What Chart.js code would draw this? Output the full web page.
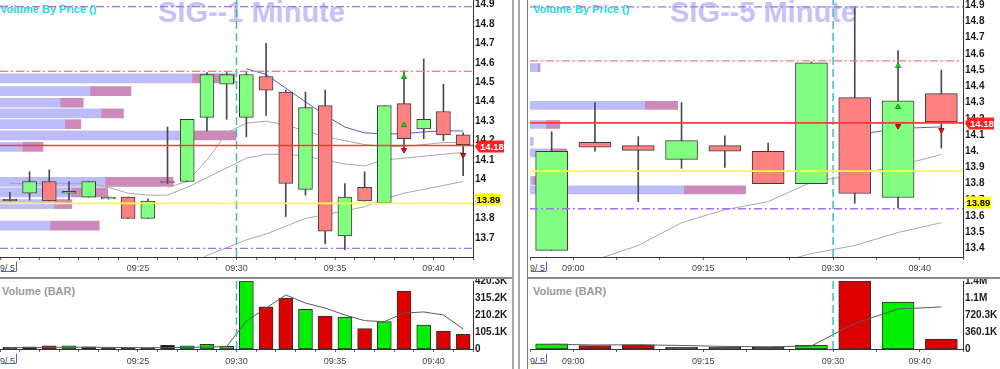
<!DOCTYPE html>
<html>
<head>
<meta charset="utf-8">
<script src="https://cdn.jsdelivr.net/npm/chart.js@4.4.1/dist/chart.umd.min.js"></script>
<style>
  html, body { margin: 0; padding: 0; background: #fff; }
  body { position: relative; width: 1000px; height: 369px; overflow: hidden; font-family: "Liberation Sans", Arial, sans-serif; }
  canvas, .txt, .rule { position: absolute; }
  .txt { white-space: nowrap; line-height: 1; }
  .title { font-size: 29px; font-weight: bold; color: #c3c3f9; }
  .vbp { font-size: 11px; font-weight: bold; color: #22dbe6; }
  .vol { font-size: 11px; font-weight: bold; color: #9a9a9a; }
</style>
</head>
<body>
<!-- textos de fondo (el canvas va encima) -->
<div class="txt title" style="left:158px; top:-2px">SIG--1 Minute</div>
<div class="txt title" style="left:670px; top:-2px">SIG--5 Minute</div>
<div class="txt vbp" style="left:0; top:4px">Volume By Price ()</div>
<div class="txt vbp" style="left:533px; top:4px">Volume By Price ()</div>
<div class="txt vol" style="left:2px; top:286px">Volume (BAR)</div>
<div class="txt vol" style="left:533px; top:286px">Volume (BAR)</div>

<!-- separadores -->
<div class="rule" style="left:0; top:277px; width:512px; height:2px; background:#8a8a8a"></div>
<div class="rule" style="left:528px; top:277px; width:472px; height:2px; background:#8a8a8a"></div>
<div class="rule" style="left:512px; top:0; width:2px; height:369px; background:#a8a8a8"></div>
<div class="rule" style="left:518px; top:0; width:2px; height:369px; background:#a8a8a8"></div>
<div class="rule" style="left:527px; top:0; width:1px; height:369px; background:#777"></div>

<canvas id="lp" width="512" height="276" style="left:0; top:0"></canvas>
<canvas id="lv" width="512" height="90" style="left:0; top:279px"></canvas>
<canvas id="rp" width="473" height="276" style="left:527px; top:0"></canvas>
<canvas id="rv" width="473" height="90" style="left:527px; top:279px"></canvas>

<script>
// ---------- 1 minuto ----------
const leftTimes = ['09:18','09:19','09:20','09:21','09:22','09:23','09:24','09:25','09:26','09:27','09:28','09:29',
                   '09:30','09:31','09:32','09:33','09:34','09:35','09:36','09:37','09:38','09:39','09:40','09:41'];
const leftOpen  = [13.90,13.93,13.99,13.93,13.91,13.90,13.91,13.80,13.99,13.99,14.32,14.49,14.32,14.53,14.45,13.95,14.38,13.71,13.96,13.88,14.39,14.26,14.35,14.23];
const leftHigh  = [13.935,14.04,14.05,13.99,13.99,13.91,13.91,13.90,14.27,14.31,14.55,14.55,14.55,14.70,14.46,14.45,14.46,13.98,14.04,14.38,14.56,14.62,14.49,14.24];
const leftLow   = [13.89,13.895,13.89,13.895,13.91,13.90,13.80,13.80,13.98,13.99,14.25,14.31,14.22,14.33,13.81,13.92,13.67,13.64,13.89,13.88,14.15,14.21,14.20,14.02];
const leftClose = [13.89,13.99,13.89,13.94,13.99,13.91,13.80,13.89,13.985,14.31,14.54,14.54,14.54,14.46,13.98,14.37,13.735,13.91,13.89,14.38,14.21,14.31,14.23,14.18];
const leftMaUpper = [null,null,null,null,null,null,null,null,13.96,13.99,14.10,14.24,14.29,14.30,14.28,14.25,14.22,14.20,14.18,14.17,14.17,14.18,14.19,14.19];
const leftMaMid   = [13.98,13.98,13.98,13.98,13.98,13.96,13.93,13.92,13.92,13.96,14.01,14.06,14.11,14.13,14.13,14.12,14.10,14.08,14.07,14.10,14.11,14.12,14.13,14.14];
const leftMaLow   = [null,null,null,null,null,null,null,null,null,13.55,13.61,13.65,13.69,13.72,13.76,13.80,13.82,13.84,13.86,13.90,13.93,13.95,13.97,13.99];
const leftVwap    = [null,null,null,null,null,null,null,null,null,null,null,null,14.57,14.54,14.47,14.40,14.33,14.27,14.24,14.235,14.235,14.245,14.25,14.25];
const leftVolume  = [10,14,20,20,14,8,4,4,23,20,29,16,420.3,261,313,245,204,198,126,169,358,148,111,91];
const leftVolSide = ['flat','flat','down','up','flat','flat','flat','flat','flat','up','up','up','up','down','down','up','down','up','down','up','down','up','down','down'];
const leftVolAvg  = [8,9,10,11,11,10,9,8,9,10,12,15,173,253,334,284,253,210,175,169,222,229,210,124];
// volumen por precio (K)
const leftVbpPrice = [14.52,14.455,14.395,14.34,14.285,14.227,14.168,13.988,13.934,13.874,13.763];
const leftVbpBuy   = [406,190,127,214,137,408,47,222,150,114,106];
const leftVbpSell  = [91,87,49,47,34,91,44,144,78,38,104];
const leftUpAt = [20,20],   leftUpPrice = [14.527,14.28];
const leftDownAt = [20,23], leftDownPrice = [14.152,14.126];
const leftPriceTicks = [14.9,14.8,14.7,14.6,14.5,14.4,14.3,14.2,14.1,14.0,13.9,13.8,13.7];
const leftPriceLabels = ['14.9','14.8','14.7','14.6','14.5','14.4','14.3','14.2','14.1','14','13.9','13.8','13.7'];
const leftVolTicks = [0,105.1,210.2,315.2,420.3];
const leftVolLabels = ['0','105.1K','210.2K','315.2K','420.3K'];
const leftAxisTimes = ['09:25','09:30','09:35','09:40'];

// ---------- 5 minutos ----------
const rightTimes = ['08:55','09:00','09:05','09:10','09:15','09:20','09:25','09:30','09:35','09:40'];
const rightOpen  = [13.39,14.055,14.035,13.95,14.035,14.00,13.80,14.33,13.715,14.355];
const rightHigh  = [14.12,14.30,14.09,14.30,14.095,14.05,14.55,14.89,14.62,14.50];
const rightLow   = [13.39,14.00,13.69,13.895,13.90,13.80,13.80,13.68,13.65,14.02];
const rightClose = [14.00,14.025,14.005,14.065,14.00,13.80,14.545,13.74,14.31,14.18];
const rightMaMid = [null,13.33,13.42,13.56,13.64,13.69,13.81,13.855,13.91,13.98];
const rightMaLow = [null,null,null,null,null,13.30,13.37,13.42,13.50,13.56];
const rightVwap  = [null,null,null,null,null,null,null,14.10,14.14,14.15];
const rightVolume  = [109,72,87,37,37,45,80,1440.6,993,211];
const rightVolSide = ['up','down','down','flat','flat','flat','up','down','up','down'];
const rightVolAvg  = [100,85,90,75,55,45,65,543,847,891];
const rightVbpPrice = [14.515,14.282,14.165,14.06,13.99,13.82,13.762];
const rightVbpBuy   = [18,265,37,7,48,5,355];
const rightVbpSell  = [5,76,32,0,37,9,143];
const rightUpAt = [8,8],   rightUpPrice = [14.525,14.272];
const rightDownAt = [8,9], rightDownPrice = [14.155,14.13];
const rightPriceTicks = [14.9,14.8,14.7,14.6,14.5,14.4,14.3,14.2,14.1,14.0,13.9,13.8,13.7,13.6,13.5,13.4];
const rightPriceLabels = ['14.9','14.8','14.7','14.6','14.5','14.4','14.3','14.2','14.1','14.','13.9','13.8','13.7','13.6','13.5','13.4'];
const rightVolTicks = [0,360.1,720.3,1080.4,1440.6];
const rightVolLabels = ['0','360.1K','720.3K','1.1M','1.4M'];
const rightAxisTimes = ['09:00','09:15','09:30','09:40'];

// niveles comunes (máximo, resistencia, último, pivote, mínimo)
const levelValues = [14.889,14.556,14.175,13.878,13.646];
const levelKinds  = ['hi','res','last','pivot','lo'];

const FONT = '"Liberation Sans", Arial, sans-serif';
const COL = {
  up: '#80ff80', down: '#ff8080', edge: '#3c3c3c', wick: '#4a4a4a',
  buy: '#bcbcfb', sell: '#cc8abb', ma: '#a8a8a8', vwap: '#5a5ad8', vma: '#5a5a5a',
  session: '#3cbcbc'
};
const VOLCOL = { up: '#00f000', down: '#dd0000', flat: '#111111' };
const LEVEL_STYLE = {
  hi:    { color: '#a070f0', dash: [8,3,2,3], width: 1.3 },
  res:   { color: '#ff7878', dash: [8,3,2,3], width: 1.3 },
  last:  { color: '#ff3a3a', dash: [], width: 1.7 },
  pivot: { color: '#ffff40', dash: [], width: 1.7 },
  lo:    { color: '#a070f0', dash: [8,3,2,3], width: 1.3 }
};

Chart.defaults.font.family = FONT;
Chart.defaults.animation = false;

// etiquetas de precio a la derecha (último y pivote)
const tagPlugin = {
  id: 'priceTags',
  afterDraw(chart, args, opts) {
    const { ctx, chartArea, scales } = chart;
    (opts.items || []).forEach(t => {
      const y = Math.round(scales.y.getPixelForValue(t.value)) + 0.5;
      const x = chartArea.right + 2;
      const w = 25, h = 12;
      ctx.save();
      ctx.fillStyle = t.bg;
      ctx.beginPath();
      if (t.arrow) {
        ctx.moveTo(x, y);
        ctx.lineTo(x + 4, y - h / 2);
        ctx.lineTo(x + 4 + w, y - h / 2);
        ctx.lineTo(x + 4 + w, y + h / 2);
        ctx.lineTo(x + 4, y + h / 2);
        ctx.closePath();
      } else {
        ctx.rect(x + 1, y - h / 2, w, h);
      }
      ctx.fill();
      ctx.fillStyle = t.fg;
      ctx.font = 'bold 9.5px ' + FONT;
      ctx.textBaseline = 'middle';
      ctx.fillText(t.text, x + (t.arrow ? 5 : 1.5), y + 0.5);
      ctx.restore();
    });
  }
};

// subrayado azul bajo la fecha del eje de tiempo
const dateMarkPlugin = {
  id: 'dateMark',
  afterDraw(chart) {
    const { ctx, chartArea, scales } = chart;
    const x0 = scales.x.getPixelForValue(0);
    const y = chartArea.bottom + 14.5;
    ctx.save();
    ctx.strokeStyle = '#4466ee';
    ctx.lineWidth = 1;
    ctx.beginPath();
    ctx.moveTo(x0 + 1, y);
    ctx.lineTo(x0 + 16, y);
    ctx.moveTo(x0 + 16.5, y);
    ctx.lineTo(x0 + 16.5, y - 10);
    ctx.stroke();
    ctx.restore();
  }
};

function timeAxis(times, shown, xAxisH, pad) {
  const n = times.length;
  return {
    type: 'linear', min: 0, max: n, offset: false,
    afterBuildTicks: s => { s.ticks = Array.from({ length: n + 1 }, (_, i) => ({ value: i })); },
    afterFit: s => { s.height = xAxisH; s.paddingLeft = 0; s.paddingRight = 0; },
    ticks: {
      autoSkip: false, maxRotation: 0, minRotation: 0, align: 'inner', padding: pad,
      color: '#444', font: { size: 9 },
      callback: v => v === 0 ? '9/ 5' : (shown.includes(times[v]) ? times[v] : '')
    },
    grid: { display: true, drawOnChartArea: false, drawTicks: true, tickLength: 3, color: '#666', offset: false },
    border: { display: true, color: '#333' }
  };
}

function valueAxis(min, max, ticks, labels, axisW) {
  return {
    type: 'linear', position: 'right', min, max, offset: false, grace: 0,
    afterBuildTicks: s => { s.ticks = ticks.map(v => ({ value: v })); },
    afterFit: s => { s.width = axisW; s.paddingTop = 0; s.paddingBottom = 0; },
    ticks: { autoSkip: false, padding: 2, color: '#1a1a1a', font: { size: 10, weight: 'bold' },
             callback: (v, i) => labels[i] },
    grid: { display: false, drawTicks: false, offset: false },
    border: { display: true, color: '#333' }
  };
}

function priceChart(id, d) {
  const n = d.times.length;
  const mid = i => i + 0.5;
  const series = vals => vals.map((v, i) => ({ x: mid(i), y: v }));
  const datasets = [
    { type: 'bar', indexAxis: 'y', xAxisID: 'xv', yAxisID: 'y', order: 6, grouped: false,
      data: d.vbpPrice.map((p, i) => ({ y: p, x: [0, d.vbpBuy[i]] })),
      backgroundColor: COL.buy, borderWidth: 0, barThickness: d.vbpThick },
    { type: 'bar', indexAxis: 'y', xAxisID: 'xv', yAxisID: 'y', order: 6, grouped: false,
      data: d.vbpPrice.map((p, i) => ({ y: p, x: [d.vbpBuy[i], d.vbpBuy[i] + d.vbpSell[i]] })),
      backgroundColor: COL.sell, borderWidth: 0, barThickness: d.vbpThick },
    ...d.mas.map(m => ({ type: 'line', xAxisID: 'x', data: series(m.values), borderColor: m.color,
      borderWidth: 1, pointRadius: 0, order: 5 })),
    { type: 'bar', xAxisID: 'x', data: d.low.map((l, i) => ({ x: mid(i), y: [l, d.high[i]] })),
      backgroundColor: COL.wick, barThickness: 1, grouped: false, order: 4 },
    { type: 'bar', xAxisID: 'x', data: d.open.map((o, i) => ({ x: mid(i), y: [o, d.close[i]] })),
      backgroundColor: d.open.map((o, i) => d.close[i] >= o ? COL.up : COL.down),
      borderColor: COL.edge, borderWidth: 1, borderSkipped: false, barThickness: d.bodyW, grouped: false, order: 3 },
    ...levelValues.map((v, i) => {
      const st = LEVEL_STYLE[levelKinds[i]];
      return { type: 'line', xAxisID: 'x', data: [{ x: 0, y: v }, { x: n, y: v }], borderColor: st.color,
        backgroundColor: st.color, borderDash: st.dash, borderWidth: st.width, pointRadius: 0, order: 2 };
    }),
    { type: 'line', xAxisID: 'x', data: [{ x: d.sessionIdx, y: d.yMin }, { x: d.sessionIdx, y: d.yMax }],
      borderColor: COL.session, borderDash: [8, 4], borderWidth: 1.5, pointRadius: 0, order: 2 },
    { type: 'line', xAxisID: 'x', showLine: false, data: d.upAt.map((t, i) => ({ x: mid(t), y: d.upPrice[i] })),
      pointStyle: 'triangle', pointRadius: 3, pointBackgroundColor: '#22dd22', pointBorderColor: '#119911', pointBorderWidth: 1, order: 0 },
    { type: 'line', xAxisID: 'x', showLine: false, data: d.downAt.map((t, i) => ({ x: mid(t), y: d.downPrice[i] })),
      pointStyle: 'triangle', pointRotation: 180, pointRadius: 3, pointBackgroundColor: '#ee1111', pointBorderColor: '#aa0000', pointBorderWidth: 1, order: 0 }
  ];
  return new Chart(document.getElementById(id), {
    type: 'bar',
    data: { datasets },
    plugins: [tagPlugin, dateMarkPlugin],
    options: {
      responsive: false, devicePixelRatio: 1, events: [],
      layout: { padding: { left: d.padLeft, top: 0, right: 0, bottom: 0 }, autoPadding: false },
      plugins: { legend: { display: false }, tooltip: { enabled: false }, priceTags: { items: d.tags } },
      scales: {
        x: timeAxis(d.times, d.shownTimes, 19, 3),
        y: valueAxis(d.yMin, d.yMax, d.yTicks, d.yLabels, d.axisW),
        xv: { type: 'linear', display: false, min: 0, max: 1000, offset: false, grace: 0 }
      }
    }
  });
}

function volumeChart(id, d) {
  const mid = i => i + 0.5;
  const volMax = d.ticks[d.ticks.length - 1];
  return new Chart(document.getElementById(id), {
    type: 'bar',
    data: {
      datasets: [
        { type: 'line', data: d.avg.map((v, i) => ({ x: mid(i), y: v })), borderColor: COL.vma,
          borderWidth: 1, pointRadius: 0, order: 1 },
        { type: 'line', data: [{ x: d.sessionIdx, y: 0 }, { x: d.sessionIdx, y: volMax }], borderColor: COL.session,
          borderDash: [8, 4], borderWidth: 1.5, pointRadius: 0, order: 0 },
        { type: 'bar', data: d.volume.map((v, i) => ({ x: mid(i), y: v })),
          backgroundColor: d.side.map(s => VOLCOL[s]), borderColor: '#303030', borderWidth: 1,
          borderSkipped: false, barThickness: d.bodyW, grouped: false, order: 2 }
      ]
    },
    plugins: [dateMarkPlugin],
    options: {
      responsive: false, devicePixelRatio: 1, events: [],
      layout: { padding: { left: d.padLeft, top: 2, right: 0, bottom: 0 }, autoPadding: false },
      plugins: { legend: { display: false }, tooltip: { enabled: false } },
      scales: {
        x: timeAxis(d.times, d.shownTimes, 20, 4),
        y: valueAxis(0, volMax, d.ticks, d.labels, d.axisW)
      }
    }
  });
}

priceChart('lp', {
  times: leftTimes, open: leftOpen, high: leftHigh, low: leftLow, close: leftClose,
  mas: [{ values: leftMaUpper, color: COL.ma }, { values: leftMaMid, color: COL.ma },
        { values: leftMaLow, color: COL.ma }, { values: leftVwap, color: COL.vwap }],
  vbpPrice: leftVbpPrice, vbpBuy: leftVbpBuy, vbpSell: leftVbpSell, vbpThick: 9,
  upAt: leftUpAt, upPrice: leftUpPrice, downAt: leftDownAt, downPrice: leftDownPrice,
  yMin: 13.602, yMax: 14.923, yTicks: leftPriceTicks, yLabels: leftPriceLabels,
  shownTimes: leftAxisTimes, sessionIdx: leftTimes.indexOf('09:30'),
  bodyW: 14, padLeft: 0, axisW: 39,
  tags: [{ value: 14.175, text: '14.18', bg: '#ff2222', fg: '#fff', arrow: true },
         { value: 13.9, text: '13.89', bg: '#ffff00', fg: '#000', arrow: false }]
});
volumeChart('lv', {
  times: leftTimes, volume: leftVolume, side: leftVolSide, avg: leftVolAvg,
  ticks: leftVolTicks, labels: leftVolLabels, shownTimes: leftAxisTimes,
  sessionIdx: leftTimes.indexOf('09:30'), bodyW: 14, padLeft: 0, axisW: 39
});
priceChart('rp', {
  times: rightTimes, open: rightOpen, high: rightHigh, low: rightLow, close: rightClose,
  mas: [{ values: rightMaMid, color: COL.ma }, { values: rightMaLow, color: COL.ma },
        { values: rightVwap, color: COL.vwap }],
  vbpPrice: rightVbpPrice, vbpBuy: rightVbpBuy, vbpSell: rightVbpSell, vbpThick: 8,
  upAt: rightUpAt, upPrice: rightUpPrice, downAt: rightDownAt, downPrice: rightDownPrice,
  yMin: 13.349, yMax: 14.931, yTicks: rightPriceTicks, yLabels: rightPriceLabels,
  shownTimes: rightAxisTimes, sessionIdx: rightTimes.indexOf('09:30'),
  bodyW: 32, padLeft: 3, axisW: 37,
  // la etiqueta del pivote aparece desplazada en el original
  tags: [{ value: 14.175, text: '14.18', bg: '#ff2222', fg: '#fff', arrow: true },
         { value: 13.69, text: '13.89', bg: '#ffff00', fg: '#000', arrow: false }]
});
volumeChart('rv', {
  times: rightTimes, volume: rightVolume, side: rightVolSide, avg: rightVolAvg,
  ticks: rightVolTicks, labels: rightVolLabels, shownTimes: rightAxisTimes,
  sessionIdx: rightTimes.indexOf('09:30'), bodyW: 32, padLeft: 3, axisW: 37
});
</script>
</body>
</html>
